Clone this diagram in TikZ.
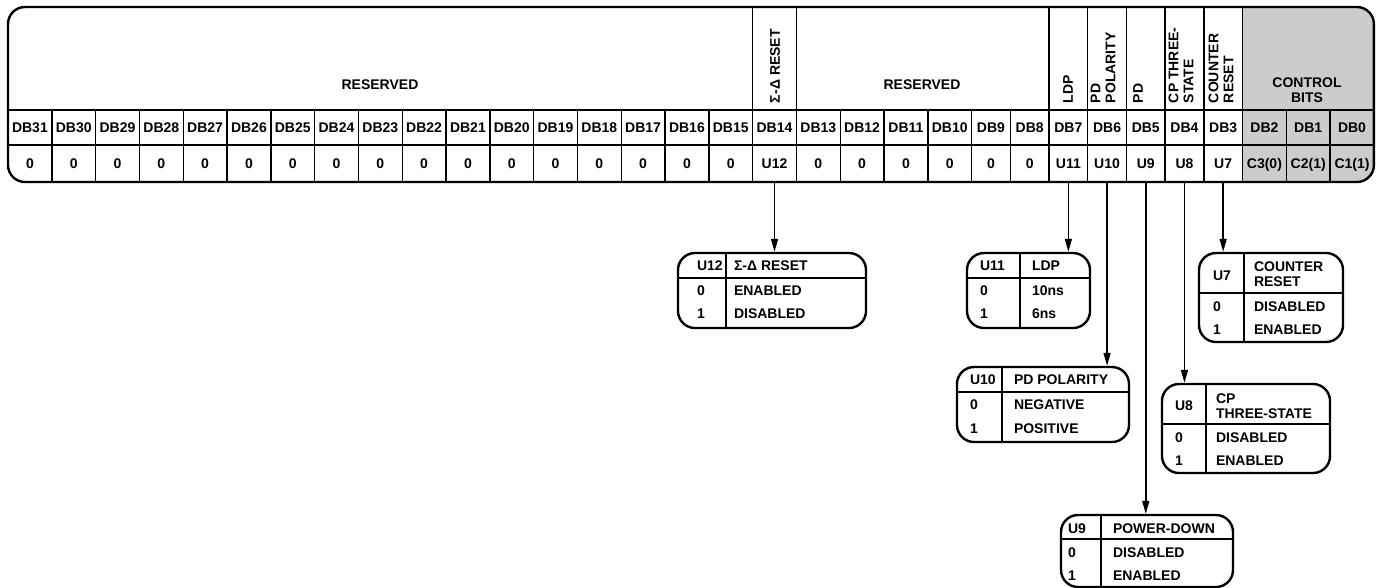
\documentclass[tikz,border=0pt]{standalone}
\usepackage{fontspec}
\setmainfont{Liberation Sans}
\usetikzlibrary{arrows.meta}
\definecolor{ctrlgray}{RGB}{204,204,204}
\begin{document}
\begin{tikzpicture}[x=1pt,y=-1pt,
  txt/.style={font=\fontsize{14}{15}\selectfont\bfseries, inner sep=0pt, outer sep=0pt, text height=10pt, text depth=0pt},
  mtxt/.style={font=\fontsize{14}{15}\selectfont\bfseries, inner sep=0pt, outer sep=0pt, align=left},
  vtxt/.style={mtxt, rotate=90, anchor=west},
  cell/.style={txt, minimum height=35pt},
  vcell/.style={txt, minimum height=37pt},
  regborder/.style={line width=2.4pt, rounded corners=17pt},
  gline/.style={line width=1.4pt},
  tbox/.style={draw, line width=2.4pt, rounded corners=17pt, inner sep=0pt, outer sep=1.2pt},
  tline/.style={line width=1.6pt},
  arr/.style={line width=1.6pt, -{Triangle[length=13pt,width=7pt]}},
]
\useasboundingbox (0,0) rectangle (1380,587);

% control bits shading
\begin{scope}
\clip[rounded corners=17pt] (8,7) rectangle (1373.9,182);
\fill[ctrlgray] (1242.5,0) rectangle (1380,190);
\end{scope}

% cells
\foreach \n/\L/\w/\v in {31/8/43.8/0, 30/51.8/43.8/0, 29/95.6/43.8/0, 28/139.4/43.8/0,
  27/183.2/43.8/0, 26/227/43.8/0, 25/270.8/43.8/0, 24/314.6/43.8/0, 23/358.4/43.8/0,
  22/402.2/43.8/0, 21/446/43.8/0, 20/489.8/43.8/0, 19/533.6/43.8/0, 18/577.4/43.8/0,
  17/621.2/43.8/0, 16/665/43.8/0, 15/708.8/43.8/0, 14/752.6/43.8/U12, 13/796.4/43.8/0,
  12/840.2/43.8/0, 11/884/43.8/0, 10/927.8/43.8/0, 9/971.6/38.7/0, 8/1010.3/38.7/0,
  7/1049/38.7/U11, 6/1087.7/38.7/U10, 5/1126.4/38.7/U9, 4/1165.1/38.7/U8, 3/1203.8/38.7/U7,
  2/1242.5/43.8/C3(0), 1/1286.3/43.8/C2(1), 0/1330.1/43.8/C1(1)} {
  \node[cell, minimum width=\w pt] (db\n) at ({\L+\w/2},127.5) {DB\n};
  \node[vcell, minimum width=\w pt] (v\n) at ({\L+\w/2},163.5) {\v};
}

% grid lines
\foreach \x in {51.8, 95.6, 139.4, 183.2, 227, 270.8, 314.6, 358.4, 402.2, 446, 489.8,
  533.6, 577.4, 621.2, 665, 708.8, 752.6, 796.4, 840.2, 884, 927.8, 971.6, 1010.3, 1049,
  1087.7, 1126.4, 1165.1, 1203.8, 1242.5, 1286.3, 1330.1}
  \draw[gline] (\x,110) -- (\x,182);
\foreach \x in {752.6, 796.4, 1049, 1087.7, 1126.4, 1165.1, 1203.8, 1242.5}
  \draw[gline] (\x,7) -- (\x,110);
\draw[gline] (8,110) -- (1373.9,110);
\draw[gline] (8,145) -- (1373.9,145);
\draw[regborder] (8,7) rectangle (1373.9,182);

% header labels
\node[txt] (res1) at (380,84) {RESERVED};
\node[vtxt] (sdr) at (775,103) {Σ-Δ RESET};
\node[txt] (res2) at (922,84) {RESERVED};
\node[vtxt] (ldp) at (1068,103) {LDP};
\node[vtxt] (pdp) at (1103,103) {PD\\POLARITY};
\node[vtxt] (pd) at (1138,103) {PD};
\node[vtxt] (cpt) at (1181,103) {CP THREE-\\STATE};
\node[vtxt] (cnr) at (1221,103) {COUNTER\\RESET};
\node[mtxt, align=center] (cbits) at (1307,90) {CONTROL\\BITS};

% table U12
\node[tbox, minimum width=188pt, minimum height=75pt] (t12) at (772,290.5) {};
\draw[tline] (726,253) -- (726,328) (678,278) -- (866,278);
\node[txt, anchor=west] (t12a) at (697,265) {U12};
\node[txt, anchor=west] (t12b) at (734,265) {Σ-Δ RESET};
\node[txt, anchor=west] (t12c) at (697,290) {0};
\node[txt, anchor=west] (t12d) at (734,290) {ENABLED};
\node[txt, anchor=west] (t12e) at (697,313) {1};
\node[txt, anchor=west] (t12f) at (734,313) {DISABLED};

% table U11
\node[tbox, minimum width=123pt, minimum height=75pt] (t11) at (1028.5,290.5) {};
\draw[tline] (1020,253) -- (1020,328) (967,278) -- (1090,278);
\node[txt, anchor=west] (t11a) at (980,265) {U11};
\node[txt, anchor=west] (t11b) at (1032,265) {LDP};
\node[txt, anchor=west] (t11c) at (980,290) {0};
\node[txt, anchor=west] (t11d) at (1032,290) {10ns};
\node[txt, anchor=west] (t11e) at (980,313) {1};
\node[txt, anchor=west] (t11f) at (1032,313) {6ns};

% table U10
\node[tbox, minimum width=172pt, minimum height=75pt] (t10) at (1043,404.5) {};
\draw[tline] (1002,367) -- (1002,442) (957,392) -- (1129,392);
\node[txt, anchor=west] (t10a) at (970,379) {U10};
\node[txt, anchor=west] (t10b) at (1014,379) {PD POLARITY};
\node[txt, anchor=west] (t10c) at (970,404) {0};
\node[txt, anchor=west] (t10d) at (1014,404) {NEGATIVE};
\node[txt, anchor=west] (t10e) at (970,428) {1};
\node[txt, anchor=west] (t10f) at (1014,428) {POSITIVE};

% table U7
\node[tbox, minimum width=144pt, minimum height=89pt] (t7) at (1271,297.5) {};
\draw[tline] (1244,253) -- (1244,342) (1199,293) -- (1343,293);
\node[txt, anchor=west] (t7a) at (1213,275) {U7};
\node[mtxt, anchor=west] (t7b) at (1254,274.5) {COUNTER\\RESET};
\node[txt, anchor=west] (t7c) at (1213,306) {0};
\node[txt, anchor=west] (t7d) at (1254,306) {DISABLED};
\node[txt, anchor=west] (t7e) at (1213,329) {1};
\node[txt, anchor=west] (t7f) at (1254,329) {ENABLED};

% table U8
\node[tbox, minimum width=168pt, minimum height=89pt] (t8) at (1246,428.5) {};
\draw[tline] (1206,384) -- (1206,473) (1162,424) -- (1330,424);
\node[txt, anchor=west] (t8a) at (1175,405) {U8};
\node[mtxt, anchor=west] (t8b) at (1216,406) {CP\\THREE-STATE};
\node[txt, anchor=west] (t8c) at (1175,437) {0};
\node[txt, anchor=west] (t8d) at (1216,437) {DISABLED};
\node[txt, anchor=west] (t8e) at (1175,460) {1};
\node[txt, anchor=west] (t8f) at (1216,460) {ENABLED};

% table U9
\node[tbox, minimum width=172pt, minimum height=72pt] (t9) at (1147,551) {};
\draw[tline] (1101,515) -- (1101,587) (1061,539) -- (1233,539);
\node[txt, anchor=west] (t9a) at (1068,528) {U9};
\node[txt, anchor=west] (t9b) at (1113,528) {POWER-DOWN};
\node[txt, anchor=west] (t9c) at (1068,552) {0};
\node[txt, anchor=west] (t9d) at (1113,552) {DISABLED};
\node[txt, anchor=west] (t9e) at (1068,575) {1};
\node[txt, anchor=west] (t9f) at (1113,575) {ENABLED};

% arrows
\draw[arr] (v14.south) -- (v14.south |- t12.north);
\draw[arr] (v7.south) -- (v7.south |- t11.north);
\draw[arr] (v6.south) -- (v6.south |- t10.north);
\draw[arr] (v5.south) -- (v5.south |- t9.north);
\draw[arr] (v4.south) -- (v4.south |- t8.north);
\draw[arr] (v3.south) -- (v3.south |- t7.north);
\end{tikzpicture}
\end{document}
